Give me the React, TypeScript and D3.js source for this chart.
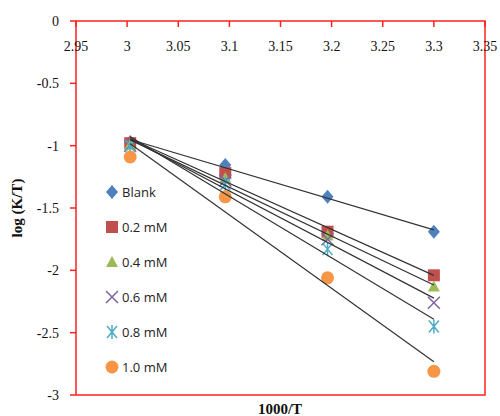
import React from 'react';
import * as d3 from 'd3';

// 1000/T values (K^-1)
const xValues = [3.003, 3.096, 3.196, 3.3];
const seriesNames = ['Blank', '0.2 mM', '0.4 mM', '0.6 mM', '0.8 mM', '1.0 mM'];
const blank = [-0.97, -1.155, -1.41, -1.69];
const c02 = [-0.98, -1.22, -1.69, -2.04];
const c04 = [-0.99, -1.26, -1.72, -2.13];
const c06 = [-1.0, -1.28, -1.75, -2.26];
const c08 = [-1.0, -1.31, -1.83, -2.45];
const c10 = [-1.09, -1.41, -2.06, -2.81];
const xTicks = [2.95, 3, 3.05, 3.1, 3.15, 3.2, 3.25, 3.3, 3.35];
const yTicks = [0, -0.5, -1, -1.5, -2, -2.5, -3];

const colors = ['#4F81BD', '#C0504D', '#9BBB59', '#8064A2', '#4BACC6', '#F79646'];
const allSeries = [blank, c02, c04, c06, c08, c10];

const fit = (xs: number[], ys: number[]) => {
  const mx = d3.mean(xs)!;
  const my = d3.mean(ys)!;
  const sxy = d3.sum(xs, (x, i) => (x - mx) * (ys[i] - my));
  const sxx = d3.sum(xs, x => (x - mx) * (x - mx));
  const b = sxy / sxx;
  return (x: number) => my + b * (x - mx);
};

const Marker = ({ kind, x, y, color }: { kind: number; x: number; y: number; color: string }) => {
  switch (kind) {
    case 0:
      return <path d={`M${x},${y - 7}L${x + 6},${y}L${x},${y + 7}L${x - 6},${y}Z`} fill={color} />;
    case 1:
      return <rect x={x - 6} y={y - 6} width={12} height={12} fill={color} />;
    case 2:
      return <path d={`M${x},${y - 6}L${x + 6},${y + 5}L${x - 6},${y + 5}Z`} fill={color} />;
    case 3:
      return <path d={`M${x - 6},${y - 6}L${x + 6},${y + 6}M${x + 6},${y - 6}L${x - 6},${y + 6}`} stroke={color} strokeWidth={1.5} />;
    case 4:
      return (
        <path
          d={`M${x - 5},${y - 6}L${x + 5},${y + 6}M${x + 5},${y - 6}L${x - 5},${y + 6}M${x},${y - 7}L${x},${y + 7}`}
          stroke={color}
          strokeWidth={1.5}
        />
      );
    default:
      return <circle cx={x} cy={y} r={6.5} fill={color} />;
  }
};

const App = () => {
  const width = 500;
  const height = 416;
  const x = d3.scaleLinear().domain([2.95, 3.35]).range([76, 485]);
  const y = d3.scaleLinear().domain([0, -3]).range([21, 395]);
  const xMin = d3.min(xValues)!;
  const xMax = d3.max(xValues)!;
  const serif = '"Liberation Serif", "DejaVu Serif", serif';

  return (
    <svg width={width} height={height} style={{ position: 'absolute', left: 0, top: 0 }}>
      <rect width={width} height={height} fill="#fff" />
      {/* frame */}
      <rect x={x(2.95)} y={y(0)} width={x(3.35) - x(2.95)} height={y(-3) - y(0)} fill="none" stroke="#FF2020" strokeWidth={1.5} />
      {xTicks.map(t => (
        <g key={t}>
          <line x1={x(t)} x2={x(t)} y1={y(0)} y2={y(0) + 6} stroke="#FF2020" strokeWidth={1.5} />
          <text x={x(t)} y={y(0) + 30} textAnchor="middle" fontFamily={serif} fontSize={14} fill="#111">
            {t}
          </text>
        </g>
      ))}
      {yTicks.map(t => (
        <g key={t}>
          <line x1={x(2.95) - 6} x2={x(2.95)} y1={y(t)} y2={y(t)} stroke="#FF2020" strokeWidth={1.5} />
          <text x={59} y={y(t) + 5} textAnchor="end" fontFamily={serif} fontSize={14} fill="#111">
            {t}
          </text>
        </g>
      ))}
      {/* markers */}
      {allSeries.map((s, i) =>
        s.map((v, j) => <Marker key={`${i}-${j}`} kind={i} x={x(xValues[j])} y={y(v)} color={colors[i]} />)
      )}
      {/* linear trendlines */}
      {allSeries.map((s, i) => {
        const f = fit(xValues, s);
        return (
          <line key={i} x1={x(xMin)} y1={y(f(xMin))} x2={x(xMax)} y2={y(f(xMax))} stroke="#333" strokeWidth={1.2} />
        );
      })}
      {/* legend */}
      {seriesNames.map((n, i) => (
        <g key={n}>
          <Marker kind={i} x={112} y={192 + i * 35} color={colors[i]} />
          <text x={122} y={192 + i * 35 + 5} fontFamily='"Open Sans", "Liberation Sans", sans-serif' fontSize={13} fill="#222">
            {n}
          </text>
        </g>
      ))}
      <text x={280} y={414} textAnchor="middle" fontFamily={serif} fontSize={15} fontWeight="bold" fill="#111">
        1000/T
      </text>
      <text
        transform="translate(22,208) rotate(-90)"
        textAnchor="middle"
        fontFamily={serif}
        fontSize={15}
        fontWeight="bold"
        fill="#111"
      >
        log (K/T)
      </text>
    </svg>
  );
};

export default App;
